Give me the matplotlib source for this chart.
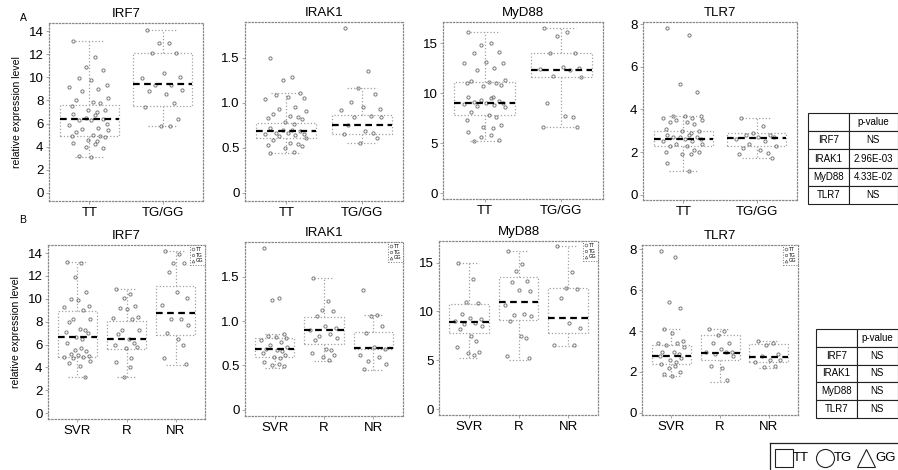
import matplotlib
matplotlib.use('Agg')
import matplotlib.pyplot as plt
from matplotlib.lines import Line2D

plt.rcParams['font.family'] = ['Liberation Sans', 'DejaVu Sans']

genes = ['IRF7', 'IRAK1', 'MyD88', 'TLR7']
groups_a = ['TT', 'TG/GG']
groups_b = ['SVR', 'R', 'NR']

# ---- panel A: genotype groups ----
a_irf7 = [
    [13.1, 11.8, 10.9, 10.6, 9.9, 9.8, 9.3, 9.2, 9.0, 8.8, 8.2, 8.0, 7.9, 7.8, 7.5, 7.2, 7.2,
     7.0, 6.8, 6.7, 6.5, 6.4, 6.3, 6.3, 6.0, 5.9, 5.6, 5.5, 5.4, 5.3, 5.0, 4.9, 4.9, 4.8, 4.6,
     4.5, 4.3, 4.2, 4.0, 3.9, 3.2, 3.1],
    [14.1, 13.0, 13.0, 12.1, 12.1, 10.4, 10.0, 9.9, 9.3, 9.3, 8.9, 8.8, 8.6, 7.8, 7.4, 6.4,
     5.8, 5.8],
]
a_irak1 = [
    [1.50, 1.29, 1.26, 1.11, 1.09, 1.07, 1.06, 1.04, 0.96, 0.93, 0.91, 0.88, 0.86, 0.84, 0.83,
     0.82, 0.79, 0.77, 0.72, 0.70, 0.70, 0.69, 0.67, 0.67, 0.66, 0.65, 0.64, 0.63, 0.61, 0.59,
     0.55, 0.54, 0.53, 0.52, 0.50, 0.46, 0.44],
    [1.83, 1.36, 1.17, 1.10, 1.01, 0.96, 0.93, 0.92, 0.85, 0.84, 0.84, 0.75, 0.69, 0.67, 0.65,
     0.61, 0.55],
]
a_myd88 = [
    [16.1, 15.0, 14.8, 14.1, 14.0, 13.1, 13.0, 13.0, 12.5, 12.3, 11.3, 11.2, 11.1, 11.0, 11.0,
     10.8, 10.7, 9.6, 9.6, 9.5, 9.3, 9.2, 9.1, 9.0, 9.0, 8.9, 8.8, 8.7, 8.6, 8.1, 7.8, 7.6, 7.3,
     6.8, 6.6, 6.5, 6.1, 5.8, 5.6, 5.3, 5.2],
    [16.5, 16.1, 15.7, 14.0, 14.0, 12.6, 12.5, 12.4, 12.3, 11.7, 11.6, 9.0, 7.7, 7.6, 6.6, 6.6],
]
a_tlr7 = [
    [7.8, 7.5, 5.2, 4.8, 3.7, 3.7, 3.7, 3.6, 3.6, 3.5, 3.5, 3.4, 3.4, 3.3, 3.1, 3.0, 3.0, 2.9,
     2.8, 2.8, 2.7, 2.7, 2.7, 2.6, 2.6, 2.5, 2.5, 2.4, 2.4, 2.3, 2.3, 2.1, 2.0, 2.0, 1.9, 1.9,
     1.5, 1.1],
    [3.6, 3.2, 2.9, 2.8, 2.8, 2.7, 2.7, 2.6, 2.5, 2.4, 2.3, 2.2, 2.1, 1.95, 1.9, 1.7],
]
# box stats per group: (q1, median, q3, whisker low, whisker high)
a_box_irf7 = [(4.9, 6.4, 7.6, 3.1, 13.1), (7.5, 9.4, 12.1, 5.8, 14.1)]
a_box_irak1 = [(0.61, 0.69, 0.78, 0.44, 1.11), (0.66, 0.75, 0.87, 0.55, 1.17)]
a_box_myd88 = [(7.8, 9.0, 11.1, 5.2, 16.1), (11.6, 12.3, 14.0, 6.6, 16.5)]
a_box_tlr7 = [(2.3, 2.6, 3.0, 1.1, 3.7), (2.3, 2.65, 2.9, 1.7, 3.6)]

# ---- panel B: response groups ----
b_irf7 = [
    [13.2, 13.1, 11.9, 10.6, 10.0, 9.9, 9.4, 9.3, 9.0, 8.2, 8.2, 8.0, 7.4, 7.3, 7.1, 7.0, 6.7,
     6.5, 6.1, 5.7, 5.5, 5.4, 5.2, 5.1, 5.0, 4.9, 4.9, 4.8, 4.6, 4.4, 4.1, 3.2],
    [10.9, 10.4, 10.1, 9.4, 9.2, 9.1, 8.4, 8.3, 8.2, 7.3, 7.3, 6.9, 6.5, 6.1, 6.0, 5.8, 5.7,
     4.8, 4.5, 4.0, 3.2],
    [14.2, 13.9, 13.1, 13.1, 12.3, 10.6, 10.1, 9.5, 8.2, 8.2, 7.7, 7.0, 6.5, 6.0, 4.8, 4.3],
]
b_irak1 = [
    [1.82, 1.26, 1.24, 0.85, 0.83, 0.82, 0.81, 0.79, 0.76, 0.73, 0.71, 0.68, 0.67, 0.66, 0.64,
     0.62, 0.60, 0.58, 0.54, 0.52, 0.51, 0.49],
    [1.49, 1.22, 1.12, 1.11, 1.06, 0.94, 0.92, 0.90, 0.85, 0.83, 0.81, 0.79, 0.69, 0.67, 0.64,
     0.62, 0.60, 0.56],
    [1.35, 1.07, 1.06, 0.94, 0.86, 0.71, 0.69, 0.62, 0.60, 0.55, 0.52, 0.46],
]
b_myd88 = [
    [15.0, 13.3, 11.0, 10.9, 9.7, 9.3, 9.2, 9.0, 8.8, 8.7, 8.5, 8.2, 7.5, 7.0, 6.4, 5.8, 5.7,
     5.5],
    [16.2, 14.8, 14.1, 13.1, 13.0, 12.2, 12.1, 10.7, 9.7, 9.6, 9.5, 9.0, 7.5, 7.3, 5.4, 5.2],
    [16.7, 14.0, 12.4, 12.3, 11.4, 8.8, 8.3, 6.6, 6.6],
]
b_tlr7 = [
    [7.9, 7.6, 5.4, 5.1, 4.1, 3.9, 3.5, 3.4, 3.4, 3.3, 3.2, 3.0, 3.0, 2.9, 2.8, 2.7, 2.6, 2.5,
     2.4, 2.3, 2.2, 2.0, 1.9, 1.8],
    [4.1, 4.0, 3.8, 3.4, 3.4, 3.1, 3.0, 3.0, 3.0, 2.9, 2.8, 2.3, 2.2, 1.6],
    [3.5, 3.4, 3.3, 2.9, 2.8, 2.6, 2.6, 2.5, 2.3, 2.25],
]
b_box_irf7 = [(4.9, 6.7, 8.9, 3.2, 13.2), (5.6, 6.5, 8.1, 3.2, 10.9), (6.8, 8.8, 11.1, 4.2, 14.2)]
b_box_irak1 = [(0.60, 0.69, 0.81, 0.47, 0.85), (0.74, 0.90, 1.05, 0.55, 1.49),
               (0.68, 0.70, 0.88, 0.45, 1.07)]
b_box_myd88 = [(7.8, 8.9, 10.8, 5.2, 15.0), (9.1, 11.0, 13.5, 5.0, 16.2),
               (7.8, 9.3, 12.4, 6.5, 16.7)]
b_box_tlr7 = [(2.4, 2.8, 3.3, 1.8, 4.1), (2.6, 2.95, 3.8, 1.5, 4.1), (2.5, 2.75, 3.35, 2.2, 3.5)]

pvals_a = ['NS', '2.96E-03', '4.33E-02', 'NS']
pvals_b = ['NS', 'NS', 'NS', 'NS']

yticks = {'IRF7': [0, 2, 4, 6, 8, 10, 12, 14], 'IRAK1': [0, 0.5, 1.0, 1.5],
          'MyD88': [0, 5, 10, 15], 'TLR7': [0, 2, 4, 6, 8]}
ylabels = {'IRAK1': ['0', '0.5', '1.0', '1.5']}

W, H = 898, 470
fig = plt.figure(figsize=(W / 100, H / 100), dpi=100)


def px_axes(l, t, r, b):
    return fig.add_axes([l / W, 1 - b / H, (r - l) / W, (b - t) / H])


JIT = [-0.22, 0.08, -0.05, 0.18, -0.14, 0.02, 0.24, -0.28, 0.12, -0.1, 0.26, -0.18, 0.05,
       0.15, -0.24, 0.21, -0.02, 0.1]
GRAY = '#7a7a7a'


def panel(ax, data, box, names, ylim, gene, legend=False):
    stats = [dict(q1=q1, med=m, q3=q3, whislo=lo, whishi=hi, fliers=[])
             for (q1, m, q3, lo, hi) in box]
    pos = list(range(1, len(data) + 1))
    ax.bxp(stats, positions=pos, widths=0.8, showfliers=False,
           boxprops=dict(color='#a0a0a0', ls=':', lw=0.9),
           whiskerprops=dict(color='#a0a0a0', ls=':', lw=0.9),
           capprops=dict(color='#a0a0a0', ls=':', lw=0.9),
           medianprops=dict(color='k', ls=(0, (3, 2)), lw=1.6))
    for p, vals in zip(pos, data):
        xs = [p + JIT[i % len(JIT)] for i in range(len(vals))]
        ax.plot(xs, vals, 'o', ms=2.3, mfc='none', mec=GRAY, mew=0.7)
    ax.set_xlim(0.45 if len(data) == 2 else 0.4, len(data) + (0.55 if len(data) == 2 else 0.6))
    ax.set_ylim(*ylim)
    ax.set_xticks(pos)
    ax.set_xticklabels(names, fontsize=9.5)
    ax.set_yticks(yticks[gene])
    ax.set_yticklabels(ylabels.get(gene, [str(v) for v in yticks[gene]]), fontsize=9.5)
    ax.tick_params(length=2, width=0.6, color='#999999', pad=2)
    for s in ax.spines.values():
        s.set_linestyle(':')
        s.set_color('#888888')
        s.set_linewidth(0.9)
    ax.set_title(gene, fontsize=9.5, pad=4)
    if legend:
        hs = [Line2D([], [], marker=m, ls='none', ms=2, mfc='none', mec='#666', mew=0.5)
              for m in ['o', 's', '^']]
        lg = ax.legend(hs, ['TT', 'TG', 'GG'], loc='upper right', fontsize=3.5,
                       handlelength=0.6, handletextpad=0.3, borderpad=0.3,
                       labelspacing=0.15, borderaxespad=0.1, fancybox=False)
        lg.get_frame().set_linestyle(':')
        lg.get_frame().set_edgecolor('#555')
        lg.get_frame().set_linewidth(0.7)


a_pos = [(49, 23, 203, 201), (245, 22, 403, 201), (443, 22, 603, 199), (643, 22, 797, 200)]
b_pos = [(48, 245, 205, 419), (245, 242, 403, 416), (439, 241, 598, 415), (642, 245, 798, 415)]
a_lims = [(-0.7, 14.7), (-0.09, 1.9), (-0.6, 17.1), (-0.25, 8.1)]
b_lims = [(-0.5, 14.7), (-0.07, 1.89), (-0.6, 17.2), (-0.1, 8.2)]
a_data = [a_irf7, a_irak1, a_myd88, a_tlr7]
a_boxes = [a_box_irf7, a_box_irak1, a_box_myd88, a_box_tlr7]
b_data = [b_irf7, b_irak1, b_myd88, b_tlr7]
b_boxes = [b_box_irf7, b_box_irak1, b_box_myd88, b_box_tlr7]

for i, g in enumerate(genes):
    ax = px_axes(*a_pos[i])
    panel(ax, a_data[i], a_boxes[i], groups_a, a_lims[i], g)
    if i == 0:
        ax.set_ylabel('relative expression level', fontsize=7.5, labelpad=5)
    ax = px_axes(*b_pos[i])
    panel(ax, b_data[i], b_boxes[i], groups_b, b_lims[i], g, legend=True)
    if i == 0:
        ax.set_ylabel('relative expression level', fontsize=7.5, labelpad=5)

fig.text(23 / W, 1 - 18 / H, 'A', fontsize=7.5, ha='center', va='center')
fig.text(23 / W, 1 - 220 / H, 'B', fontsize=7.5, ha='center', va='center')


def ptable(l, t, r, b, split, pvals):
    ax = px_axes(l, t, r, b)
    ax.axis('off')
    rows = [['', 'p-value']] + [[g, p] for g, p in zip(genes, pvals)]
    w0 = (split - l) / (r - l)
    tb = ax.table(cellText=rows, cellLoc='center', colWidths=[w0, 1.0 - w0],
                  bbox=[0, 0, 0.995, 1])
    tb.auto_set_font_size(False)
    for cell in tb.get_celld().values():
        cell.set_fontsize(7)
        cell.set_linewidth(0.8)
        cell.set_edgecolor('#222')


ptable(808, 113, 898, 204, 849, pvals_a)
ptable(816, 329, 898, 418, 857, pvals_b)

# bottom genotype legend
lax = px_axes(770, 443, 898, 470)
lax.set_xlim(0, 128)
lax.set_ylim(0, 27)
lax.set_xticks([])
lax.set_yticks([])
for s in lax.spines.values():
    s.set_linewidth(0.9)
    s.set_color('#222')
lax.spines['right'].set_visible(False)
lax.spines['bottom'].set_visible(False)
for x, m, lab in [(14, 's', 'TT'), (55, 'o', 'TG'), (96, '^', 'GG')]:
    lax.plot([x], [12], marker=m, ms=13, mfc='none', mec='#222', mew=0.8, clip_on=False)
    lax.text(x + 9, 12, lab, fontsize=9.5, va='center', ha='left')

fig.savefig('out.png', dpi=100, facecolor='white')
